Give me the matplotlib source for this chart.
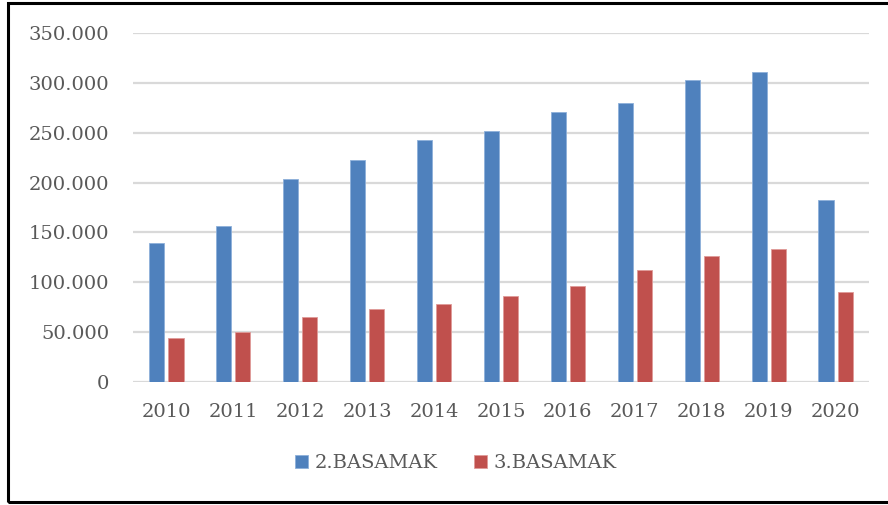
import matplotlib
matplotlib.use("Agg")
import matplotlib.pyplot as plt
import numpy as np
from matplotlib.patches import Rectangle
from matplotlib.ticker import FuncFormatter

years = ["2010", "2011", "2012", "2013", "2014", "2015", "2016", "2017", "2018", "2019", "2020"]
basamak2 = [139000, 156400, 203300, 222600, 242700, 251700, 270500, 279800, 303200, 310600, 182500]
basamak3 = [44400, 50100, 65200, 73200, 77900, 85900, 96600, 112700, 126400, 133700, 90000]
series_names = ["2.BASAMAK", "3.BASAMAK"]

W, H = 888, 505
fig = plt.figure(figsize=(W/100, H/100), dpi=100)
fig.patch.set_facecolor("white")
font = "DejaVu Serif"
tc = "#595959"
fs = 14

ax = fig.add_axes([133/W, 1-382/H, (869-133)/W, (382-33)/H])
x = np.arange(len(years))
bw = 0.225
gap = 0.03
b1 = ax.bar(x - bw/2 - gap, basamak2, width=bw, color="#4F81BD", edgecolor="#8EB0DA", linewidth=0.6, label=series_names[0], zorder=3)
b2 = ax.bar(x + bw/2 + gap, basamak3, width=bw, color="#C0504D", edgecolor="#E09A98", linewidth=0.6, label=series_names[1], zorder=3)

ax.set_xlim(-0.5, len(years) - 0.5)
ax.set_ylim(0, 350000)
ax.set_yticks(np.arange(0, 350001, 50000))
ax.yaxis.set_major_formatter(FuncFormatter(lambda v, p: "0" if v == 0 else f"{int(v):,}".replace(",", ".")))
ax.set_xticks(x)
ax.set_xticklabels(years)
ax.grid(axis="y", color="#D9D9D9", linewidth=1.6, zorder=0)
for s in ax.spines.values():
    s.set_visible(False)
ax.tick_params(axis="both", length=0, labelsize=fs, labelcolor=tc)
ax.tick_params(axis="y", pad=17)
ax.tick_params(axis="x", pad=15)
for lab in ax.get_xticklabels() + ax.get_yticklabels():
    lab.set_fontfamily(font)

leg = fig.legend(handles=[b1, b2], labels=series_names, loc="center", bbox_to_anchor=(456/W, 1-463/H),
                 ncol=2, frameon=False, prop={"family": font, "size": fs},
                 handlelength=0.65, handleheight=0.65, columnspacing=1.9, handletextpad=0.35)
for t in leg.get_texts():
    t.set_color(tc)

fig.patches.append(Rectangle((8/W, 1-502/H), (W+10-8)/W, (502-3)/H, transform=fig.transFigure,
                             fill=False, edgecolor="black", linewidth=2.2))

fig.savefig("out.png", dpi=100)
